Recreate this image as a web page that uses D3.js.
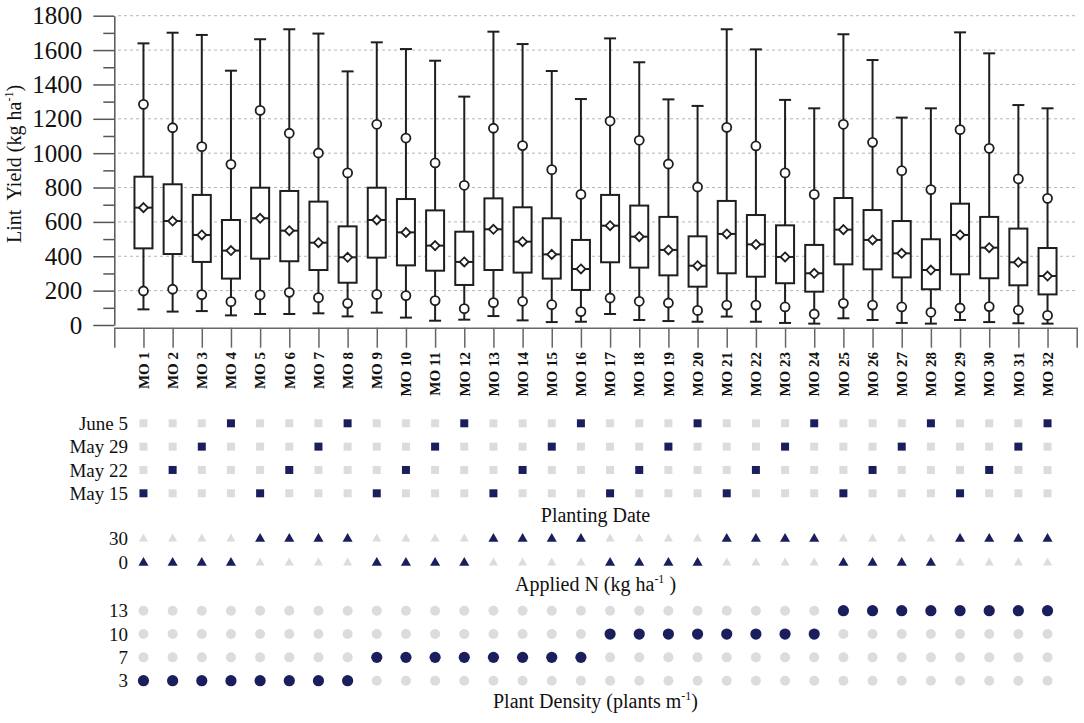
<!DOCTYPE html>
<html>
<head>
<meta charset="utf-8">
<script src="https://cdn.jsdelivr.net/npm/d3@7/dist/d3.min.js"></script>
<style>
  html, body { margin: 0; padding: 0; background: #fff; }
  svg { display: block; }
  text { font-family: "Liberation Serif", "Times New Roman", serif; }
</style>
</head>
<body>
<svg id="chart" width="1084" height="723"></svg>
<script>
// ---------- DATA ----------
const categories = ["MO 1","MO 2","MO 3","MO 4","MO 5","MO 6","MO 7","MO 8","MO 9","MO 10","MO 11","MO 12","MO 13","MO 14","MO 15","MO 16","MO 17","MO 18","MO 19","MO 20","MO 21","MO 22","MO 23","MO 24","MO 25","MO 26","MO 27","MO 28","MO 29","MO 30","MO 31","MO 32"];
const whiskerMax = [1639,1701,1688,1480,1663,1721,1696,1476,1645,1606,1538,1329,1707,1635,1478,1315,1668,1529,1313,1275,1721,1604,1310,1261,1692,1542,1207,1261,1703,1581,1280,1261];
const p95        = [1284,1148,1038,935,1249,1116,1001,885,1168,1088,943,813,1145,1044,904,760,1187,1075,937,803,1150,1042,885,760,1168,1063,898,788,1137,1028,850,737];
const q3         = [863,819,757,611,799,780,718,574,799,733,667,543,737,685,621,495,757,695,629,516,722,640,580,466,739,669,605,499,706,629,561,448];
const meanVals   = [683,605,524,433,621,549,479,394,611,539,462,367,557,485,411,326,578,514,437,345,530,469,396,301,555,495,417,320,524,450,365,285];
const q1         = [446,413,367,270,386,371,320,246,392,347,316,233,320,305,270,204,365,334,289,223,301,281,243,194,353,324,277,208,295,272,231,178];
const p5         = [198,208,177,136,175,190,159,126,178,171,142,95,130,138,118,78,157,138,128,85,116,116,105,64,126,116,105,74,99,107,87,56];
const whiskerMin = [91,78,81,56,64,64,68,50,72,43,25,31,52,27,17,19,64,29,23,19,49,19,12,8,39,29,12,8,29,17,10,8];

const yTicks = [0,200,400,600,800,1000,1200,1400,1600,1800];
const yMinorTicks = [100,300,500,700,900,1100,1300,1500,1700];

const dateLevels = ["May 15","May 22","May 29","June 5"];
const plantingDate = ["May 15","May 22","May 29","June 5","May 15","May 22","May 29","June 5","May 15","May 22","May 29","June 5","May 15","May 22","May 29","June 5","May 15","May 22","May 29","June 5","May 15","May 22","May 29","June 5","May 15","May 22","May 29","June 5","May 15","May 22","May 29","June 5"];
const nLevels = [0,30];
const appliedN = [0,0,0,0,30,30,30,30,0,0,0,0,30,30,30,30,0,0,0,0,30,30,30,30,0,0,0,0,30,30,30,30];
const densityLevels = [3,7,10,13];
const plantDensity = [3,3,3,3,3,3,3,3,7,7,7,7,7,7,7,7,10,10,10,10,10,10,10,10,13,13,13,13,13,13,13,13];

// ---------- STYLE ----------
const NAVY = "#1b1e5c";
const LIGHT = "#dcdce0";
const INK = "#1e1e1e";
const SERIF = "Liberation Serif";

const svg = d3.select("#chart");

const x = d3.scalePoint().domain(categories).range([114.3, 1076.7]).padding(1);
const y = d3.scaleLinear().domain([0, 1800]).range([325, 15.7]);

// gridlines
svg.append("g").selectAll("line").data(yTicks.filter(d => d > 0)).join("line")
  .attr("x1", 118).attr("x2", 1076)
  .attr("y1", d => y(d)).attr("y2", d => y(d))
  .attr("stroke", "#b5b5b5").attr("stroke-width", 1).attr("stroke-dasharray", "3,3");

// y axis (major + minor ticks, vertical domain line)
const gy = svg.append("g").attr("transform", "translate(114.3,0)")
  .call(d3.axisLeft(y).tickValues(yTicks).tickSize(21).tickSizeOuter(0).tickPadding(11).tickFormat(d3.format("d")));
gy.attr("font-family", SERIF).attr("font-size", 25);
gy.select(".domain").attr("stroke", "#555").attr("stroke-width", 1.5);
gy.selectAll(".tick line").attr("stroke", "#555").attr("stroke-width", 1.5);
gy.selectAll(".tick text").attr("fill", "#111").style("font-family", SERIF).style("font-size", "25px");
const gym = svg.append("g").attr("transform", "translate(114.3,0)")
  .call(d3.axisLeft(y).tickValues(yMinorTicks).tickSize(11).tickFormat(""));
gym.select(".domain").remove();
gym.selectAll(".tick line").attr("stroke", "#555").attr("stroke-width", 1.5);

// x axis
const gx = svg.append("g").attr("transform", "translate(0,327.7)")
  .call(d3.axisBottom(x).tickSize(20).tickSizeOuter(20).tickFormat(""));
gx.select(".domain").attr("stroke", "#666").attr("stroke-width", 1.5);
gx.selectAll(".tick line").attr("stroke", "#666").attr("stroke-width", 1.5);

// x labels rotated
svg.append("g").selectAll("text").data(categories).join("text")
  .attr("transform", d => `translate(${x(d)},352) rotate(-90)`)
  .attr("text-anchor", "end").attr("dy", "0.35em")
  .style("font-family", SERIF).style("font-size", "15px").style("font-weight", "bold")
  .attr("fill", "#111")
  .text(d => d);

// y title
const yt = svg.append("text")
  .attr("transform", "translate(21,164) rotate(-90)")
  .attr("text-anchor", "middle").style("font-family", SERIF).style("font-size", "20px").attr("fill", "#111")
  .style("white-space", "pre");
yt.append("tspan").text("Lint  Yield (kg ha");
yt.append("tspan").style("font-size", "12px").attr("dy", -8).text("-1");
yt.append("tspan").attr("dy", 8).text(")");

// box plots
const boxW = 18, capW = 12;
const gb = svg.append("g").attr("stroke", INK).attr("stroke-width", 2).attr("fill", "none");
categories.forEach((c, i) => {
  const cx = x(c);
  const g = gb.append("g");
  g.append("line").attr("x1", cx).attr("x2", cx).attr("y1", y(whiskerMax[i])).attr("y2", y(whiskerMin[i]));
  g.append("line").attr("x1", cx - capW/2).attr("x2", cx + capW/2).attr("y1", y(whiskerMax[i])).attr("y2", y(whiskerMax[i]));
  g.append("line").attr("x1", cx - capW/2).attr("x2", cx + capW/2).attr("y1", y(whiskerMin[i])).attr("y2", y(whiskerMin[i]));
  g.append("rect").attr("x", cx - boxW/2).attr("width", boxW)
    .attr("y", y(q3[i])).attr("height", y(q1[i]) - y(q3[i])).attr("fill", "#fff");
  g.append("line").attr("x1", cx - boxW/2).attr("x2", cx + boxW/2).attr("y1", y(meanVals[i])).attr("y2", y(meanVals[i]));
  const my = y(meanVals[i]), r = 4.5;
  g.append("path").attr("d", `M${cx},${my-r}L${cx+r},${my}L${cx},${my+r}L${cx-r},${my}Z`)
    .attr("fill", "#fff").attr("stroke-width", 1.8);
  g.append("circle").attr("cx", cx).attr("cy", y(p95[i])).attr("r", 4.5).attr("fill", "#fff").attr("stroke-width", 1.8);
  g.append("circle").attr("cx", cx).attr("cy", y(p5[i])).attr("r", 4.5).attr("fill", "#fff").attr("stroke-width", 1.8);
});

// ---------- LOWER PANELS ----------
function rowLabels(levels, scale) {
  svg.append("g").selectAll("text").data(levels).join("text")
    .attr("x", 128).attr("y", d => scale(d)).attr("dy", "0.35em")
    .attr("text-anchor", "end").style("font-family", SERIF).style("font-size", "19px").attr("fill", "#111")
    .text(d => d);
}
function title(parts, yPos) {
  const t = svg.append("text").attr("x", 595.5).attr("y", yPos).attr("text-anchor", "middle")
    .style("font-family", SERIF).style("font-size", "20px").attr("fill", "#111").style("white-space", "pre");
  t.append("tspan").text(parts[0]);
  if (parts.length > 1) {
    t.append("tspan").style("font-size", "12px").attr("dy", -8).text(parts[1]);
    t.append("tspan").attr("dy", 8).text(parts[2]);
  }
}

// Planting date
const yDate = d3.scalePoint().domain(dateLevels).range([493.3, 423.3]);
rowLabels(dateLevels, yDate);
const dateCells = [];
categories.forEach((c, i) => dateLevels.forEach(l => dateCells.push({c, l, on: plantingDate[i] === l})));
svg.append("g").selectAll("rect").data(dateCells).join("rect")
  .attr("x", d => x(d.c) - 4).attr("y", d => yDate(d.l) - 4)
  .attr("width", 8).attr("height", 8)
  .attr("fill", d => d.on ? NAVY : LIGHT);
title(["Planting Date"], 521.5);

// Applied N
const yN = d3.scalePoint().domain(nLevels).range([562.3, 538.3]);
rowLabels(nLevels, yN);
const nCells = [];
categories.forEach((c, i) => nLevels.forEach(l => nCells.push({c, l, on: appliedN[i] === l})));
svg.append("g").selectAll("path").data(nCells).join("path")
  .attr("transform", d => `translate(${x(d.c)},${yN(d.l) + 0.5})`)
  .attr("d", d => d3.symbol().type(d3.symbolTriangle).size(d.on ? 44 : 36)())
  .attr("fill", d => d.on ? NAVY : LIGHT);
title(["Applied N (kg ha", "-1", " )"], 590.5);

// Plant density
const yD = d3.scalePoint().domain(densityLevels).range([680.7, 610.7]);
rowLabels(densityLevels, yD);
const dCells = [];
categories.forEach((c, i) => densityLevels.forEach(l => dCells.push({c, l, on: plantDensity[i] === l})));
svg.append("g").selectAll("circle").data(dCells).join("circle")
  .attr("cx", d => x(d.c)).attr("cy", d => yD(d.l))
  .attr("r", d => d.on ? 5.6 : 5)
  .attr("fill", d => d.on ? NAVY : LIGHT);
title(["Plant Density (plants m", "-1", ")"], 708);
</script>
</body>
</html>
